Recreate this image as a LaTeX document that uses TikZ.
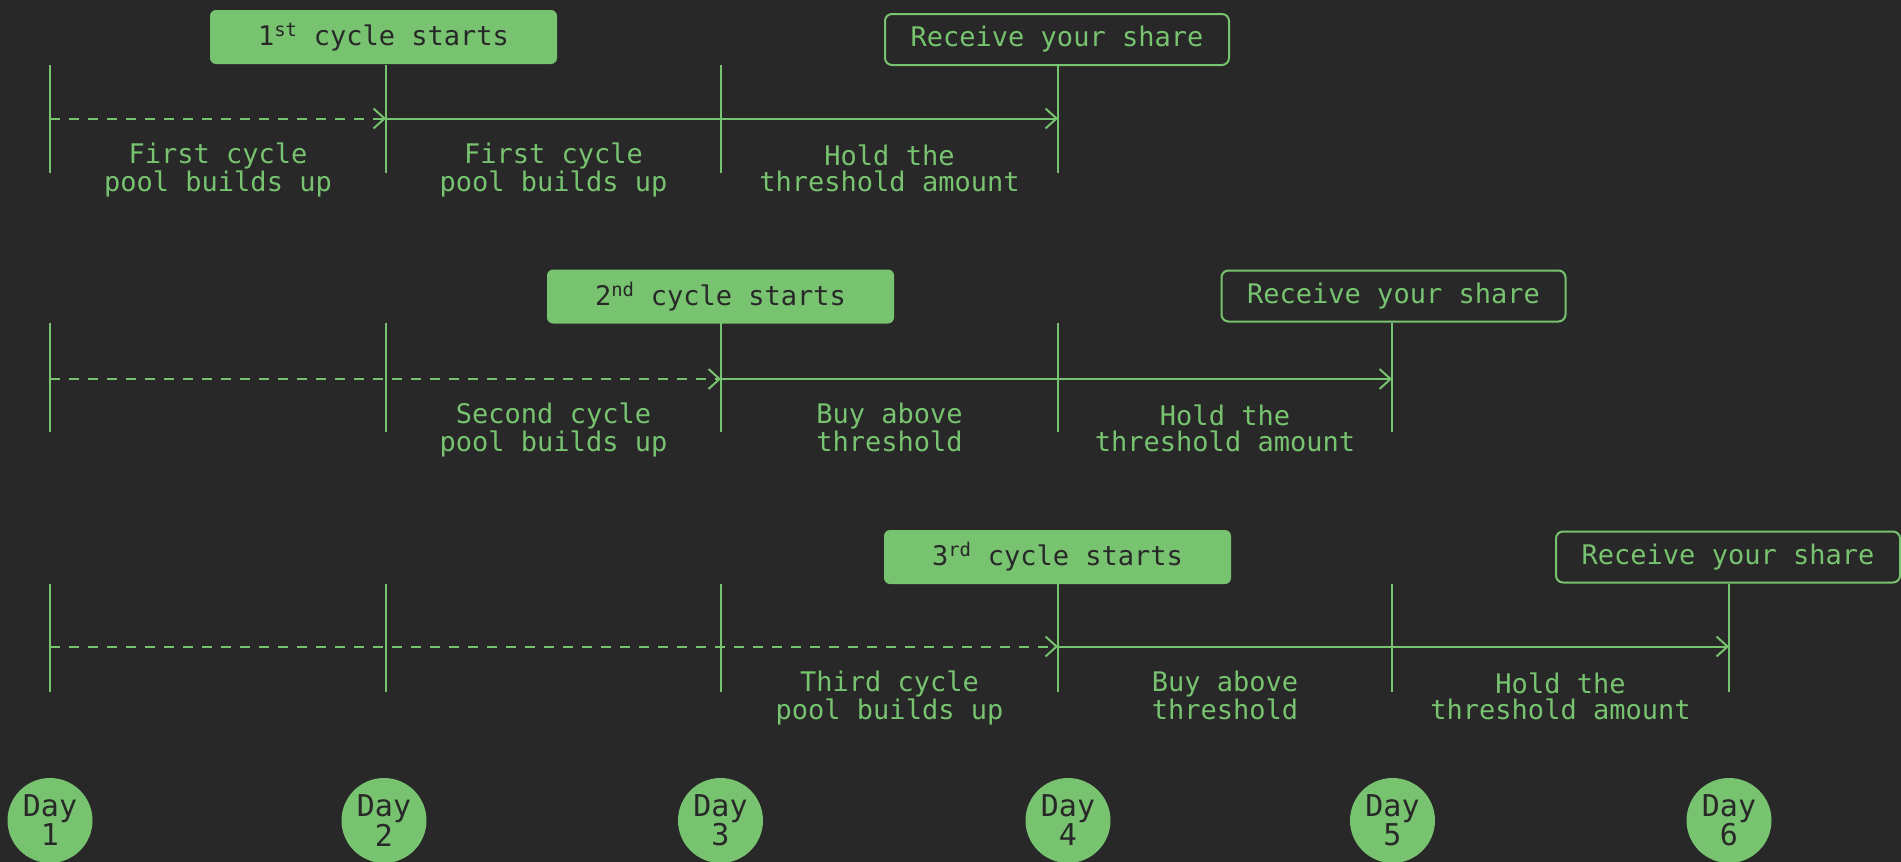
\documentclass[tikz,border=0pt]{standalone}
\usepackage{fontspec}
\newfontfamily\pix{DejaVu Sans Mono}
\usetikzlibrary{arrows.meta}
\definecolor{bg}{HTML}{282828}
\definecolor{grn}{HTML}{77C36F}
\begin{document}
\begin{tikzpicture}[x=1pt,y=-1pt,
  every node/.style={font=\pix\fontsize{27}{26}\selectfont},
  startbox/.style={fill=grn, rounded corners=6pt, text=bg, minimum width=347pt, minimum height=54pt, inner sep=0pt},
  sharebox/.style={draw=grn, line width=2pt, rounded corners=7pt, text=grn, minimum width=344pt, minimum height=51pt, inner sep=0pt},
  tickline/.style={draw=grn, line width=2pt},
  flow/.style={draw=grn, line width=2pt, -{Straight Barb[length=11pt,width=20pt]}},
  pending/.style={flow, dash pattern=on 10pt off 9pt},
  lbl/.style={text=grn, align=center, anchor=base, inner sep=0pt},
  daynode/.style={circle, fill=grn, text=bg, minimum size=85pt, inner sep=0pt, align=center, font=\pix\fontsize{30}{27}\selectfont}
]
\fill[bg] (0,0) rectangle (1901,862);
\clip (0,0) rectangle (1901,862);
\useasboundingbox (0,0) rectangle (1901,862);

% cycle start boxes
\node[startbox] (s1) at (383.5,37) {1\textsuperscript{st} cycle starts};
\node[startbox] (s2) at (720.5,296.5) {2\textsuperscript{nd} cycle starts};
\node[startbox] (s3) at (1057.5,557) {3\textsuperscript{rd} cycle starts};

% receive boxes
\node[sharebox] (rc1) at (1057,39.5) {Receive your share};
\node[sharebox] (rc2) at (1393.5,296) {Receive your share};
\node[sharebox] (rc3) at (1728,557) {Receive your share};

% ticks and arrow points
\foreach \r/\ay/\tt/\tb/\n in {1/118.5/65/173/4, 2/379/323/432/5, 3/646.5/584/692/6} {
  \foreach \x [count=\i] in {50,386,721,1058,1392,1729} {
    \ifnum\i>\n\relax\else
      \coordinate (t\r-\i-top) at (\x,\tt);
      \coordinate (t\r-\i-bot) at (\x,\tb);
      \coordinate (a\r-\i) at (\x,\ay);
      \draw[tickline] (t\r-\i-top) -- (t\r-\i-bot);
    \fi
  }
}

% arrows
\draw[pending] (a1-1) -- (a1-2);
\draw[flow] (a1-2) -- (a1-4);
\draw[pending] (a2-1) -- (a2-3);
\draw[flow] (a2-3) -- (a2-5);
\draw[pending] (a3-1) -- (a3-4);
\draw[flow] (a3-4) -- (a3-6);

% labels
\node[lbl] (l11) at (218,191) {First cycle\\pool builds up};
\node[lbl] (l12) at (553.5,191) {First cycle\\pool builds up};
\node[lbl] (l13) at (889.5,191) {Hold the\\threshold amount};
\node[lbl] (l22) at (553.5,451) {Second cycle\\pool builds up};
\node[lbl] (l23) at (889.5,451) {Buy above\\threshold};
\node[lbl] (l24) at (1225,451) {Hold the\\threshold amount};
\node[lbl] (l33) at (889.5,719) {Third cycle\\pool builds up};
\node[lbl] (l34) at (1225,719) {Buy above\\threshold};
\node[lbl] (l35) at (1560.5,719) {Hold the\\threshold amount};

% days
\node[daynode] (d1) at (50,820.5) {Day\\1};
\node[daynode] (d2) at (384,820.5) {Day\\2};
\node[daynode] (d3) at (720.5,820.5) {Day\\3};
\node[daynode] (d4) at (1068,820.5) {Day\\4};
\node[daynode] (d5) at (1392.5,820.5) {Day\\5};
\node[daynode] (d6) at (1729,820.5) {Day\\6};
\end{tikzpicture}
\end{document}
